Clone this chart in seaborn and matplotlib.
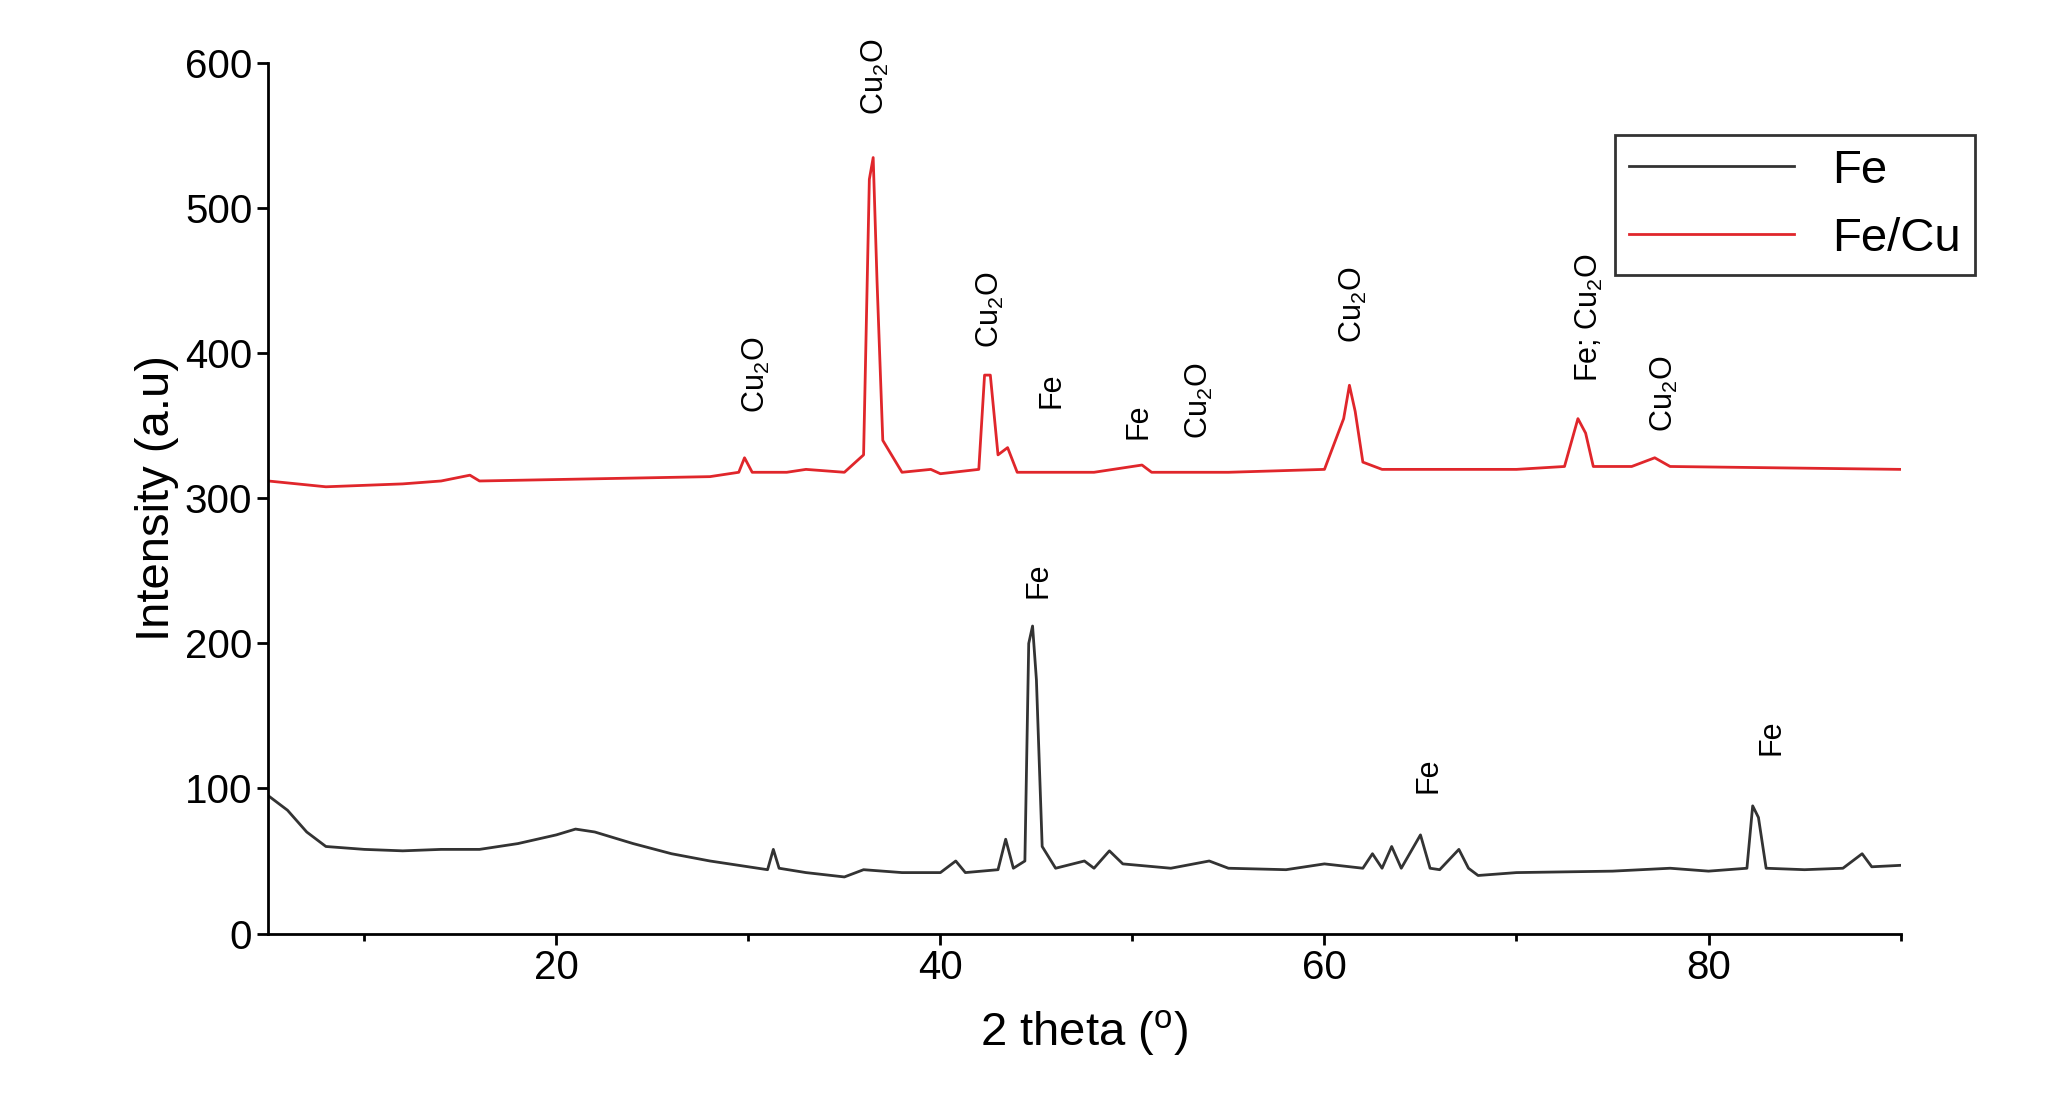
import matplotlib
matplotlib.use("Agg")
import matplotlib.pyplot as plt
import seaborn as sns
import pandas as pd
from matplotlib.ticker import MultipleLocator

fe_x = [5,6,7,8,10,12,14,16,18,20,21,22,24,26,28,30,31,31.3,31.6,33,35,36,38,40,40.8,41.3,43,43.4,43.8,44.4,44.6,44.8,45.0,45.3,46,47.5,48,48.8,49.5,52,54,55,58,60,62,62.5,63,63.5,64,65,65.5,66,67,67.5,68,70,75,78,80,82,82.3,82.6,83,85,87,88,88.5,90]
fe_y = [95,85,70,60,58,57,58,58,62,68,72,70,62,55,50,46,44,58,45,42,39,44,42,42,50,42,44,65,45,50,200,212,175,60,45,50,45,57,48,45,50,45,44,48,45,55,45,60,45,68,45,44,58,45,40,42,43,45,43,45,88,80,45,44,45,55,46,47]
cu_x = [5,8,12,14,15.5,16,20,28,29.5,29.8,30.2,32,33,35,36,36.3,36.5,36.7,37,38,39.5,40,42,42.3,42.6,43,43.5,44,48,50.5,51,55,60,61,61.3,61.6,62,63,70,72.5,73.2,73.6,74,76,77.2,78,90]
cu_y = [312,308,310,312,316,312,313,315,318,328,318,318,320,318,330,520,535,450,340,318,320,317,320,385,385,330,335,318,318,323,318,318,320,355,378,360,325,320,320,322,355,345,322,322,328,322,320]

ann_text = ["Cu$_2$O","Cu$_2$O","Cu$_2$O","Fe","Fe","Cu$_2$O","Cu$_2$O","Fe; Cu$_2$O","Cu$_2$O","Fe","Fe","Fe"]
ann_x = [30.4,36.6,42.6,45.8,50.3,53.5,61.5,73.8,77.7,45.1,65.4,83.3]
ann_y = [359,564,404,362,341,341,407,380,346,231,97,123]

plt.rcParams['font.family'] = ['Liberation Sans', 'DejaVu Sans']
plt.rcParams['mathtext.fontset'] = 'custom'
plt.rcParams['mathtext.rm'] = 'Liberation Sans'
plt.rcParams['mathtext.it'] = 'Liberation Sans'
fig = plt.figure(figsize=(20.48, 11.1), dpi=100)
ax = fig.add_axes([0.131, 0.159, 0.797, 0.784])
df1 = pd.DataFrame({"x": fe_x, "y": fe_y})
df2 = pd.DataFrame({"x": cu_x, "y": cu_y})
sns.lineplot(data=df1, x="x", y="y", ax=ax, color="#333333", lw=2, label="Fe")
sns.lineplot(data=df2, x="x", y="y", ax=ax, color="#e0262b", lw=2, label="Fe/Cu")
for t, x, y in zip(ann_text, ann_x, ann_y):
    ax.text(x, y, t, rotation=90, ha="center", va="bottom", fontsize=22)
ax.set_xlim(5, 90)
ax.set_ylim(0, 600)
ax.xaxis.set_major_locator(MultipleLocator(20))
ax.xaxis.set_minor_locator(MultipleLocator(10))
ax.yaxis.set_major_locator(MultipleLocator(100))
ax.tick_params(labelsize=29, width=2, length=8)
ax.tick_params(which="minor", width=2, length=5)
for s in ["top", "right"]:
    ax.spines[s].set_visible(False)
for s in ["left", "bottom"]:
    ax.spines[s].set_linewidth(2)
ax.set_xlabel("2 theta ($^{\\rm o}$)", fontsize=34, labelpad=15)
ax.set_ylabel("Intensity (a.u)", fontsize=34)
leg = ax.legend(loc="upper right", bbox_to_anchor=(1.06, 0.945), fontsize=34, frameon=True, fancybox=False, handlelength=3.5, borderpad=0.3)
leg.get_frame().set_edgecolor("black")
leg.get_frame().set_linewidth(2)
fig.savefig("out.png", dpi=100)
